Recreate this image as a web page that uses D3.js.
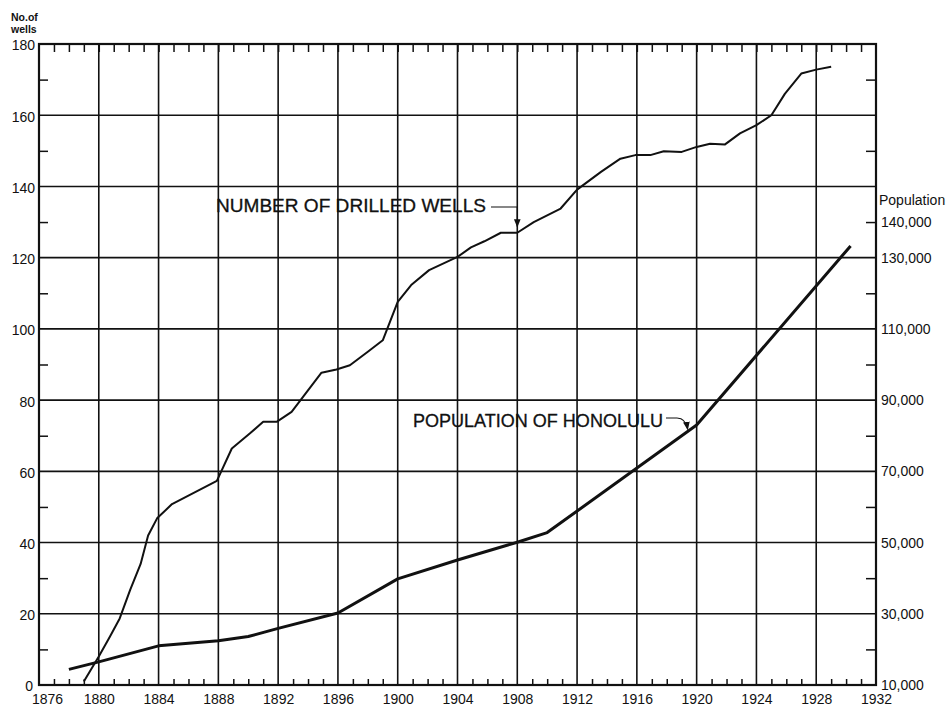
<!DOCTYPE html>
<html>
<head>
<meta charset="utf-8">
<script src="https://cdn.jsdelivr.net/npm/d3@7"></script>
<style>
  html, body { margin: 0; padding: 0; background: #fff; }
  svg { display: block; }
  text { font-family: "Liberation Sans", Arial, sans-serif; fill: #111; }
</style>
</head>
<body>
<svg id="chart" width="951" height="708"></svg>
<script>
// Year axis labels and grid
const yearLabels = [1876, 1880, 1884, 1888, 1892, 1896, 1900, 1904, 1908, 1912, 1916, 1920, 1924, 1928, 1932];
const wellTicks = [0, 20, 40, 60, 80, 100, 120, 140, 160, 180];
const popTicks = [10000, 30000, 50000, 70000, 90000, 110000, 130000, 140000];

// Number of drilled wells (cumulative)
const wellYears = [1879, 1880, 1880.75, 1881.4, 1882.1, 1882.8, 1883.3, 1883.9, 1884.9, 1887.9,
  1888.9, 1890.1, 1891, 1891.9, 1892.9, 1893.5, 1894.9, 1895.9, 1896.8, 1898,
  1899, 1900, 1900.9, 1902.1, 1904, 1904.9, 1905.8, 1906.9, 1908, 1909.1,
  1910.9, 1912, 1913.6, 1914.9, 1915.9, 1916.9, 1917.8, 1919, 1920, 1920.9,
  1921.9, 1922.9, 1924, 1925, 1925.9, 1927, 1928, 1929];
const wellCounts = [1, 8, 13.6, 18.7, 26.7, 34, 42, 46.8, 50.8, 57.3,
  66.4, 70.6, 73.9, 73.9, 76.7, 80, 87.7, 88.6, 89.8, 93.6,
  96.8, 107.6, 112.3, 116.5, 120.2, 122.9, 124.6, 127, 127, 130,
  133.8, 139.1, 144.1, 147.8, 148.8, 148.8, 149.9, 149.7, 151.1, 152,
  151.8, 154.9, 157.2, 160, 166, 171.7, 172.8, 173.6];

// Population of Honolulu
const popYears = [1878, 1880, 1884, 1888, 1890, 1892, 1896, 1900, 1904, 1908, 1910, 1920, 1930.3];
const popValues = [14400, 16500, 21000, 22400, 23600, 25900, 30200, 39800, 45100, 50100, 52800, 83000, 133300];

const svg = d3.select("#chart");
const ink = "#111";

const x = d3.scaleLinear().domain([1876, 1932]).range([39, 876]);
const y = d3.scaleLinear().domain([0, 180]).range([685, 44]);
const yPop = d3.scaleLinear().domain([10000, 190000]).range([685, 44]);

const allYears = d3.range(1877, 1932);
const minorYears = allYears.filter(d => (d - 1876) % 4 !== 0);
const minorWells = d3.range(10, 180, 20);
const minorPop = d3.range(20000, 190000, 20000);

// Grid
const grid = svg.append("g").attr("stroke", ink).attr("stroke-width", 1.6);
grid.selectAll("line.v").data(yearLabels.slice(1, -1)).join("line")
  .attr("x1", d => x(d)).attr("x2", d => x(d))
  .attr("y1", y(0)).attr("y2", y(180));
grid.selectAll("line.h").data(wellTicks.slice(1, -1)).join("line")
  .attr("x1", x(1876)).attr("x2", x(1932))
  .attr("y1", d => y(d)).attr("y2", d => y(d));

// Minor ticks on all four sides, drawn inward
function minor(axis, tf) {
  const g = svg.append("g").attr("transform", tf).call(axis);
  g.select(".domain").remove();
  g.selectAll("line").attr("stroke", ink).attr("stroke-width", 1.5);
  g.selectAll("text").remove();
}
minor(d3.axisBottom(x).tickValues(minorYears).tickSize(-6).tickFormat(""), `translate(0,${y(0)})`);
minor(d3.axisTop(x).tickValues(allYears).tickSize(-8).tickFormat(""), `translate(0,${y(180)})`);
minor(d3.axisLeft(y).tickValues(minorWells).tickSize(-9).tickFormat(""), `translate(${x(1876)},0)`);
minor(d3.axisRight(yPop).tickValues(minorPop).tickSize(-10).tickFormat(""), `translate(${x(1932)},0)`);

// Frame
svg.append("rect")
  .attr("x", x(1876)).attr("y", y(180))
  .attr("width", x(1932) - x(1876)).attr("height", y(0) - y(180))
  .attr("fill", "none").attr("stroke", ink).attr("stroke-width", 2.2);

// Labelled axes
function labels(axis, tf, size) {
  const g = svg.append("g").attr("transform", tf).call(axis);
  g.select(".domain").remove();
  g.selectAll("line").remove();
  g.selectAll("text").attr("font-size", size).attr("fill", ink)
    .attr("font-family", "'Liberation Sans', Arial, sans-serif");
  return g;
}
const bottom = labels(d3.axisBottom(x).tickValues(yearLabels).tickSize(0).tickPadding(9).tickFormat(d3.format("d")),
  `translate(0,${y(0)})`, 14);
// first year label sits a little right of the corner
bottom.selectAll(".tick").filter(d => d === 1876).select("text").attr("dx", 8);
const left = labels(d3.axisLeft(y).tickValues(wellTicks).tickSize(0).tickPadding(4),
  `translate(${x(1876)},0)`, 14);
left.selectAll("text").attr("dy", "0.42em");
left.selectAll(".tick").filter(d => d === 0).select("text").attr("dx", -2);
labels(d3.axisRight(yPop).tickValues(popTicks).tickSize(0).tickPadding(5).tickFormat(d3.format(",")),
  `translate(${x(1932)},0)`, 14);

// Axis titles
svg.append("text").attr("x", 11).attr("y", 21)
  .attr("font-size", 10.5).attr("font-weight", "bold").text("No.of");
svg.append("text").attr("x", 11).attr("y", 33)
  .attr("font-size", 10.5).attr("font-weight", "bold").text("wells");
svg.append("text").attr("x", 879).attr("y", 205).attr("font-size", 14).text("Population");

// Series
const wellData = wellYears.map((d, i) => [d, wellCounts[i]]);
const popData = popYears.map((d, i) => [d, popValues[i]]);

svg.append("path").datum(wellData)
  .attr("fill", "none").attr("stroke", ink).attr("stroke-width", 2)
  .attr("stroke-linejoin", "round")
  .attr("d", d3.line().x(d => x(d[0])).y(d => y(d[1])));

svg.append("path").datum(popData)
  .attr("fill", "none").attr("stroke", ink).attr("stroke-width", 3)
  .attr("stroke-linejoin", "round")
  .attr("d", d3.line().x(d => x(d[0])).y(d => yPop(d[1])));

// Arrowhead marker
svg.append("defs").append("marker")
  .attr("id", "arrow").attr("viewBox", "0 0 10 10")
  .attr("refX", 9).attr("refY", 5)
  .attr("markerWidth", 7).attr("markerHeight", 7)
  .attr("orient", "auto-start-reverse")
  .append("path").attr("d", "M0,1 L10,5 L0,9 Z").attr("fill", ink);

// Label: number of drilled wells
svg.append("text").attr("x", 216).attr("y", 212)
  .attr("font-size", 18).attr("textLength", 270).attr("lengthAdjust", "spacingAndGlyphs")
  .attr("stroke", ink).attr("stroke-width", 0.3)
  .text("NUMBER OF DRILLED WELLS");
const wx = x(1908);
svg.append("path")
  .attr("d", `M491,207 L${wx},207 L${wx},${y(127) - 6}`)
  .attr("fill", "none").attr("stroke", ink).attr("stroke-width", 1.2)
  .attr("marker-end", "url(#arrow)");

// Label: population of Honolulu
svg.append("text").attr("x", 413).attr("y", 427)
  .attr("font-size", 18).attr("textLength", 250).attr("lengthAdjust", "spacingAndGlyphs")
  .attr("stroke", ink).attr("stroke-width", 0.3)
  .text("POPULATION OF HONOLULU");
const px = x(1919.4), py = yPop(81200);
svg.append("path")
  .attr("d", `M666,418 L677,418 Q${px - 2},418 ${px},${py - 2}`)
  .attr("fill", "none").attr("stroke", ink).attr("stroke-width", 1.2)
  .attr("marker-end", "url(#arrow)");
</script>
</body>
</html>
